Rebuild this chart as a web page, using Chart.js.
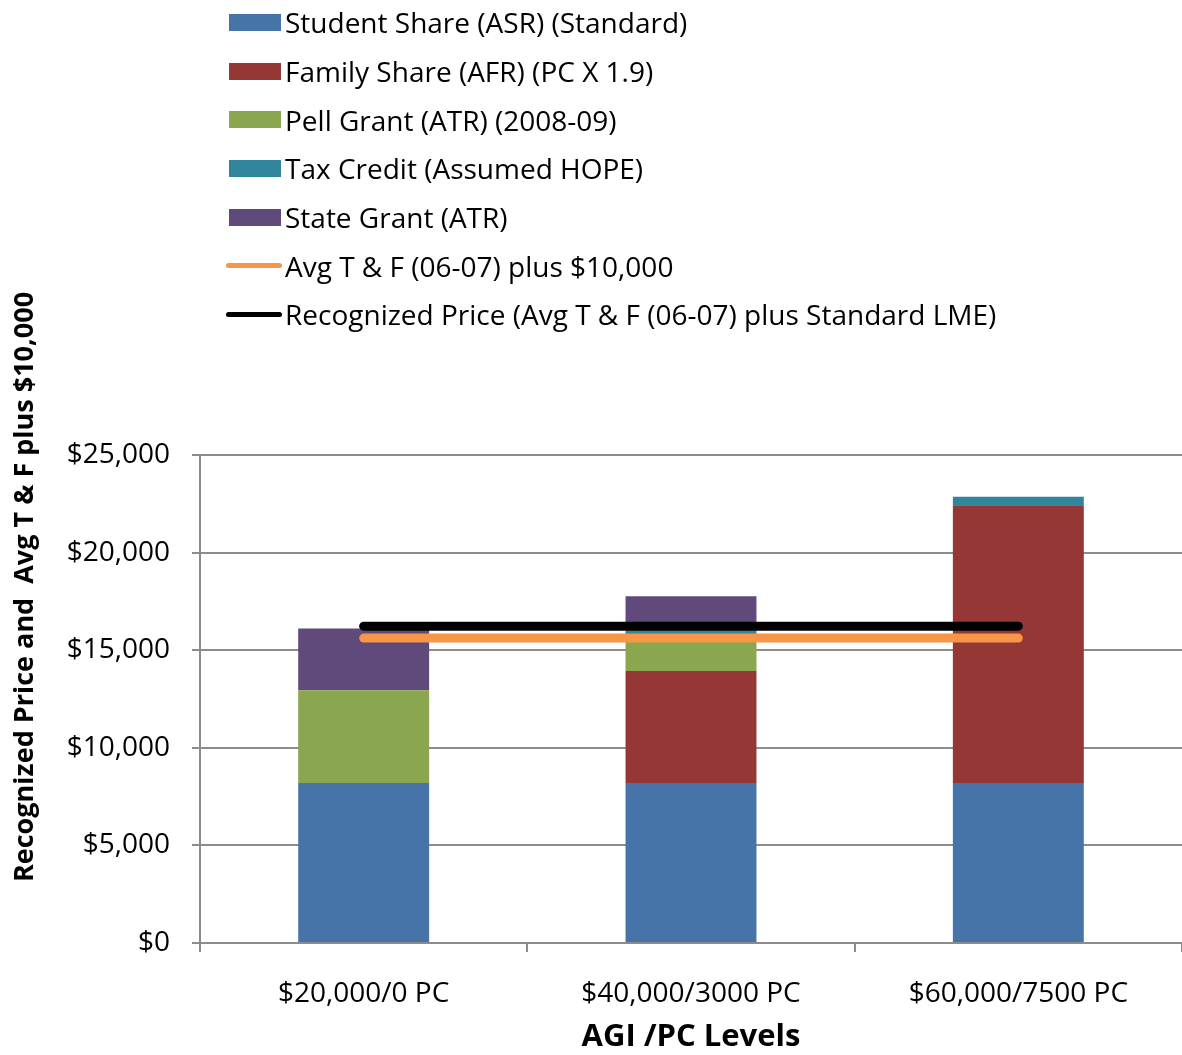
<!DOCTYPE html>
<html>
<head>
<meta charset="utf-8">
<script src="https://cdn.jsdelivr.net/npm/chart.js@4.4.1/dist/chart.umd.min.js"></script>
<style>
  body { margin: 0; background: #fff; }
  #wrap { position: relative; width: 1182px; height: 1055px; }
  #legend { position: absolute; left: 226px; top: -2px; font-family: "Open Sans", sans-serif; font-size: 28px; color: #000; }
  .item { display: flex; align-items: center; height: 48.7px; white-space: nowrap; }
  .swatch { width: 52px; height: 17px; margin-left: 3px; margin-right: 4px; }
  .stroke { width: 56px; height: 5px; border-radius: 3px; margin-right: 3px; }
</style>
</head>
<body>
<div id="wrap">
  <canvas id="chart" width="1182" height="1055"></canvas>
  <div id="legend"></div>
</div>
<script>
const categories = ["$20,000/0 PC", "$40,000/3000 PC", "$60,000/7500 PC"];
const studentShare = [8200, 8200, 8200];
const familyShare = [0, 5730, 14230];
const pellGrant = [4750, 1790, 0];
const taxCredit = [0, 300, 425];
const stateGrant = [3160, 1750, 0];
const avgTF = [15620, 15620, 15620];
const recognizedPrice = [16230, 16230, 16230];
const yTicks = [0, 5000, 10000, 15000, 20000, 25000];

const yTitle = "Recognized Price and  Avg T & F plus $10,000";
const xTitle = "AGI /PC Levels";
const FONT = "'Open Sans', sans-serif";

const barDs = (label, data, color) => ({
  type: "bar", label, data, backgroundColor: color, stack: "bars", order: 1,
  barPercentage: 0.4, categoryPercentage: 1.0
});
// each line gets its own stack so it is not piled on the other
const lineDs = (label, data, color) => ({
  type: "line", label, data, borderColor: color, backgroundColor: color, stack: label,
  borderWidth: 9, borderCapStyle: "round", pointRadius: 0, order: 0
});

const axisTitles = {
  id: "axisTitles",
  afterDraw(chart) {
    const { ctx, chartArea } = chart;
    ctx.save();
    ctx.fillStyle = "#000";
    ctx.textAlign = "center";
    ctx.textBaseline = "middle";
    ctx.font = "bold 27px " + FONT;
    ctx.translate(25, chartArea.top + 132);
    ctx.rotate(-Math.PI / 2);
    ctx.fillText(yTitle, 0, 0);
    ctx.restore();
    ctx.save();
    ctx.fillStyle = "#000";
    ctx.textAlign = "center";
    ctx.textBaseline = "middle";
    ctx.font = "bold 31px " + FONT;
    ctx.fillText(xTitle, (chartArea.left + chartArea.right) / 2, chartArea.bottom + 94);
    ctx.restore();
  }
};

const chart = new Chart(document.getElementById("chart"), {
  data: {
    labels: categories,
    datasets: [
      barDs("Student Share (ASR) (Standard)", studentShare, "#4674A9"),
      barDs("Family Share (AFR) (PC X 1.9)", familyShare, "#953735"),
      barDs("Pell Grant (ATR) (2008-09)", pellGrant, "#8AA64E"),
      barDs("Tax Credit (Assumed HOPE)", taxCredit, "#31859C"),
      barDs("State Grant (ATR)", stateGrant, "#604A7B"),
      lineDs("Avg T & F (06-07) plus $10,000", avgTF, "#F79646"),
      lineDs("Recognized Price (Avg T & F (06-07) plus Standard LME)", recognizedPrice, "#000000")
    ]
  },
  options: {
    responsive: false,
    animation: false,
    layout: { padding: { top: 455, left: 0, right: 0, bottom: 0 } },
    plugins: { legend: { display: false }, tooltip: { enabled: false } },
    scales: {
      x: {
        stacked: true,
        offset: true,
        grid: { offset: true, drawOnChartArea: false, drawTicks: true, tickLength: 9, color: "#8c8c8c", lineWidth: 2 },
        border: { color: "#8c8c8c", width: 2 },
        ticks: { color: "#000", padding: 25, font: { family: FONT, size: 28 } },
        afterFit(scale) { scale.height = 112; }
      },
      y: {
        stacked: true,
        min: 0,
        max: 25000,
        afterBuildTicks(scale) { scale.ticks = yTicks.map(v => ({ value: v })); },
        grid: { color: "#8c8c8c", lineWidth: 2, tickLength: 8 },
        border: { color: "#8c8c8c", width: 2 },
        ticks: {
          color: "#000", padding: 22,
          font: { family: FONT, size: 28 },
          callback: v => "$" + v.toLocaleString("en-US")
        },
        afterFit(scale) { scale.width = 200; }
      }
    }
  },
  plugins: [axisTitles]
});

// legend in one column, built from the chart datasets
const legend = document.getElementById("legend");
chart.data.datasets.forEach(ds => {
  const row = document.createElement("div");
  row.className = "item";
  const mark = document.createElement("span");
  mark.className = ds.type === "line" ? "stroke" : "swatch";
  mark.style.background = ds.type === "line" ? ds.borderColor : ds.backgroundColor;
  const txt = document.createElement("span");
  txt.textContent = ds.label;
  row.appendChild(mark);
  row.appendChild(txt);
  legend.appendChild(row);
});
</script>
</body>
</html>
